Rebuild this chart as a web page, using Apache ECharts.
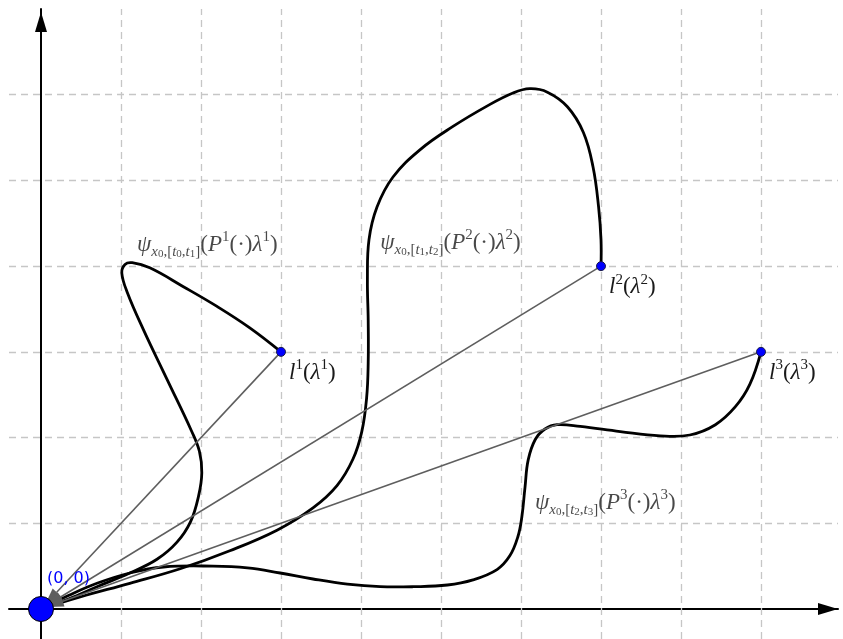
<!DOCTYPE html>
<html>
<head>
<meta charset="utf-8">
<script src="https://cdn.jsdelivr.net/npm/echarts@6/dist/echarts.min.js"></script>
<style>
  html, body { margin: 0; padding: 0; background: #fff; }
  #chart { width: 843px; height: 639px; }
</style>
</head>
<body>
<div id="chart"></div>
<script>
// curves psi_k, in grid units
var psi1 = [[0,0],[0.35,0.12],[0.70,0.26],[1.11,0.42],[1.45,0.58],[1.70,0.78],[1.87,1.02],[1.97,1.32],[2.01,1.59],
  [1.98,1.84],[1.88,2.08],[1.58,2.67],[1.28,3.26],[1.08,3.69],[1.01,3.92],[1.05,4.02],[1.14,4.04],
  [1.36,3.98],[1.78,3.76],[2.20,3.53],[2.61,3.28],[3,3]];
var psi2 = [[0,0],[0.49,0.14],[1.11,0.30],[1.74,0.47],[2.36,0.68],[2.95,0.92],[3.40,1.18],[3.70,1.44],[3.90,1.75],
  [4.01,2.07],[4.07,2.46],[4.09,2.87],[4.09,3.37],[4.08,3.84],[4.10,4.31],[4.20,4.69],[4.40,5.04],[4.74,5.36],
  [5.15,5.63],[5.58,5.87],[5.90,6.02],[6.11,6.07],[6.33,6.03],[6.58,5.86],[6.78,5.56],[6.90,5.16],[6.97,4.69],
  [7.00,4.31],[7,4]];
var psi3 = [[0,0],[0.35,0.16],[0.70,0.30],[1.11,0.42],[1.53,0.49],[2.15,0.50],[2.58,0.48],[2.99,0.42],[3.40,0.35],
  [3.83,0.29],[4.24,0.26],[4.65,0.26],[5.08,0.28],[5.40,0.34],[5.70,0.46],[5.86,0.62],[5.96,0.84],[6.01,1.07],
  [6.05,1.42],[6.09,1.74],[6.18,1.98],[6.30,2.10],[6.45,2.15],[6.74,2.13],[7.24,2.07],[7.74,2.02],[8.11,2.03],
  [8.43,2.15],[8.68,2.36],[8.86,2.62],[9,3]];

var origin = [0, 0];
var endPoints = [[3, 3], [7, 4], [9, 3]];
var psiAnchors = [[1.2, 4.25], [4.24, 4.27], [6.175, 1.24]];
var intervals = [['0', '1'], ['1', '2'], ['2', '3']];
var gridX = [1, 2, 3, 4, 5, 6, 7, 8, 9];
var gridY = [1, 2, 3, 4, 5, 6];

var serif = 'Liberation Serif';
var ink = '#1a1a1a';
var rich = {
  n:  { fontFamily: serif, fontSize: 23, lineHeight: 30, color: ink },
  i:  { fontFamily: serif, fontSize: 23, lineHeight: 30, fontStyle: 'italic', color: ink },
  s:  { fontFamily: serif, fontSize: 15, lineHeight: 16, verticalAlign: 'bottom', color: ink },
  si: { fontFamily: serif, fontSize: 15, lineHeight: 16, verticalAlign: 'bottom', fontStyle: 'italic', color: ink },
  ss: { fontFamily: serif, fontSize: 11, lineHeight: 12, verticalAlign: 'bottom', color: ink },
  p:  { fontFamily: serif, fontSize: 15, lineHeight: 16, verticalAlign: 'top', color: ink }
};

function psiText(k) {
  var t = intervals[k];
  return '{i|ψ}{si|x}{ss|0}{s|,[}{si|t}{ss|' + t[0] + '}{s|,}{si|t}{ss|' + t[1] + '}{s|]}' +
    '{n|(}{i|P}{p|' + (k + 1) + '}{n|(·)}{i|λ}{p|' + (k + 1) + '}{n|)}';
}
function lText(k) {
  return '{i|l}{p|' + (k + 1) + '}{n|(}{i|λ}{p|' + (k + 1) + '}{n|)}';
}

var chart = echarts.init(document.getElementById('chart'));

var series = [];

// dashed grid
series.push({
  type: 'line', data: [], z: 1, silent: true,
  markLine: {
    z: 1, silent: true, symbol: ['none', 'none'], label: { show: false },
    lineStyle: { type: [7, 5], color: '#c6c6c6', width: 1.3 },
    emphasis: { disabled: true }, animation: false,
    data: gridX.map(function (v) { return { xAxis: v }; })
      .concat(gridY.map(function (v) { return { yAxis: v }; }))
  }
});

// gray arrows from each l^k back to the origin (head partly under the origin dot)
series.push({
  type: 'custom', coordinateSystem: 'cartesian2d', z: 4, silent: true,
  data: endPoints,
  encode: { x: 0, y: 1 },
  renderItem: function (params, api) {
    var a = api.coord([api.value(0), api.value(1)]);
    var b = api.coord(origin);
    var dx = a[0] - b[0], dy = a[1] - b[1];
    var len = Math.sqrt(dx * dx + dy * dy);
    var ux = dx / len, uy = dy / len;
    var tip = [b[0] + ux * 6, b[1] + uy * 6];
    var base = [b[0] + ux * 23, b[1] + uy * 23];
    var hw = 5.5;
    var gray = '#5e5e5e';
    return {
      type: 'group',
      children: [
        { type: 'line', shape: { x1: a[0], y1: a[1], x2: base[0], y2: base[1] },
          style: { stroke: gray, lineWidth: 1.6 } },
        { type: 'polygon', shape: { points: [tip,
            [base[0] - uy * hw, base[1] + ux * hw], [base[0] + uy * hw, base[1] - ux * hw]] },
          style: { fill: gray } }
      ]
    };
  }
});

// the curves: a smooth polyline through the projected points
[psi1, psi2, psi3].forEach(function (c) {
  series.push({
    type: 'custom', coordinateSystem: 'cartesian2d', z: 3, silent: true,
    data: c,
    encode: { x: 0, y: 1 },
    renderItem: function (params, api) {
      if (params.dataIndex !== 0) return null;
      var pts = c.map(function (p) { return api.coord(p); });
      return {
        type: 'polyline',
        shape: { points: pts, smooth: 0.4 },
        style: { stroke: '#000', lineWidth: 2.8, fill: 'none' }
      };
    }
  });
});

// psi labels
series.push({
  type: 'scatter', z: 6, silent: true, symbolSize: 0,
  data: psiAnchors.map(function (p, k) { return { value: p, k: k }; }),
  label: {
    show: true, position: 'inside', align: 'left', verticalAlign: 'middle',
    formatter: function (d) { return psiText(d.data.k); }, rich: rich
  }
});

// l^k points
series.push({
  type: 'scatter', z: 7, silent: true, symbolSize: 9,
  itemStyle: { color: '#0000ff', borderColor: '#1a1a4a', borderWidth: 1, opacity: 1 },
  data: endPoints.map(function (p, k) { return { value: p, k: k }; }),
  label: {
    show: true, position: 'inside', align: 'left', verticalAlign: 'middle', offset: [8, 21],
    formatter: function (d) { return lText(d.data.k); }, rich: rich
  }
});

// origin
series.push({
  type: 'scatter', z: 8, silent: true, symbolSize: 25,
  itemStyle: { color: '#0000ff', borderColor: '#000', borderWidth: 1, opacity: 1 },
  data: [origin],
  label: {
    show: true, position: 'inside', align: 'left', verticalAlign: 'middle', offset: [6, -30],
    formatter: '(0, 0)', color: '#0000ff', fontFamily: 'DejaVu Sans', fontSize: 16
  }
});

function axis(min, max, tipOffset) {
  return {
    type: 'value', min: min, max: max,
    axisLine: {
      show: true, onZero: true,
      lineStyle: { color: '#000', width: 2 },
      symbol: ['none', 'triangle'], symbolSize: [12, 20], symbolOffset: [0, tipOffset]
    },
    axisTick: { show: false },
    axisLabel: { show: false },
    splitLine: { show: false }
  };
}

chart.setOption({
  animation: false,
  grid: { left: 9, right: 5, top: 9, bottom: 0 },
  xAxis: axis(-0.4, 9.9625, -10),
  yAxis: axis(-0.35, 7.0, -13),
  series: series
});
</script>
</body>
</html>
